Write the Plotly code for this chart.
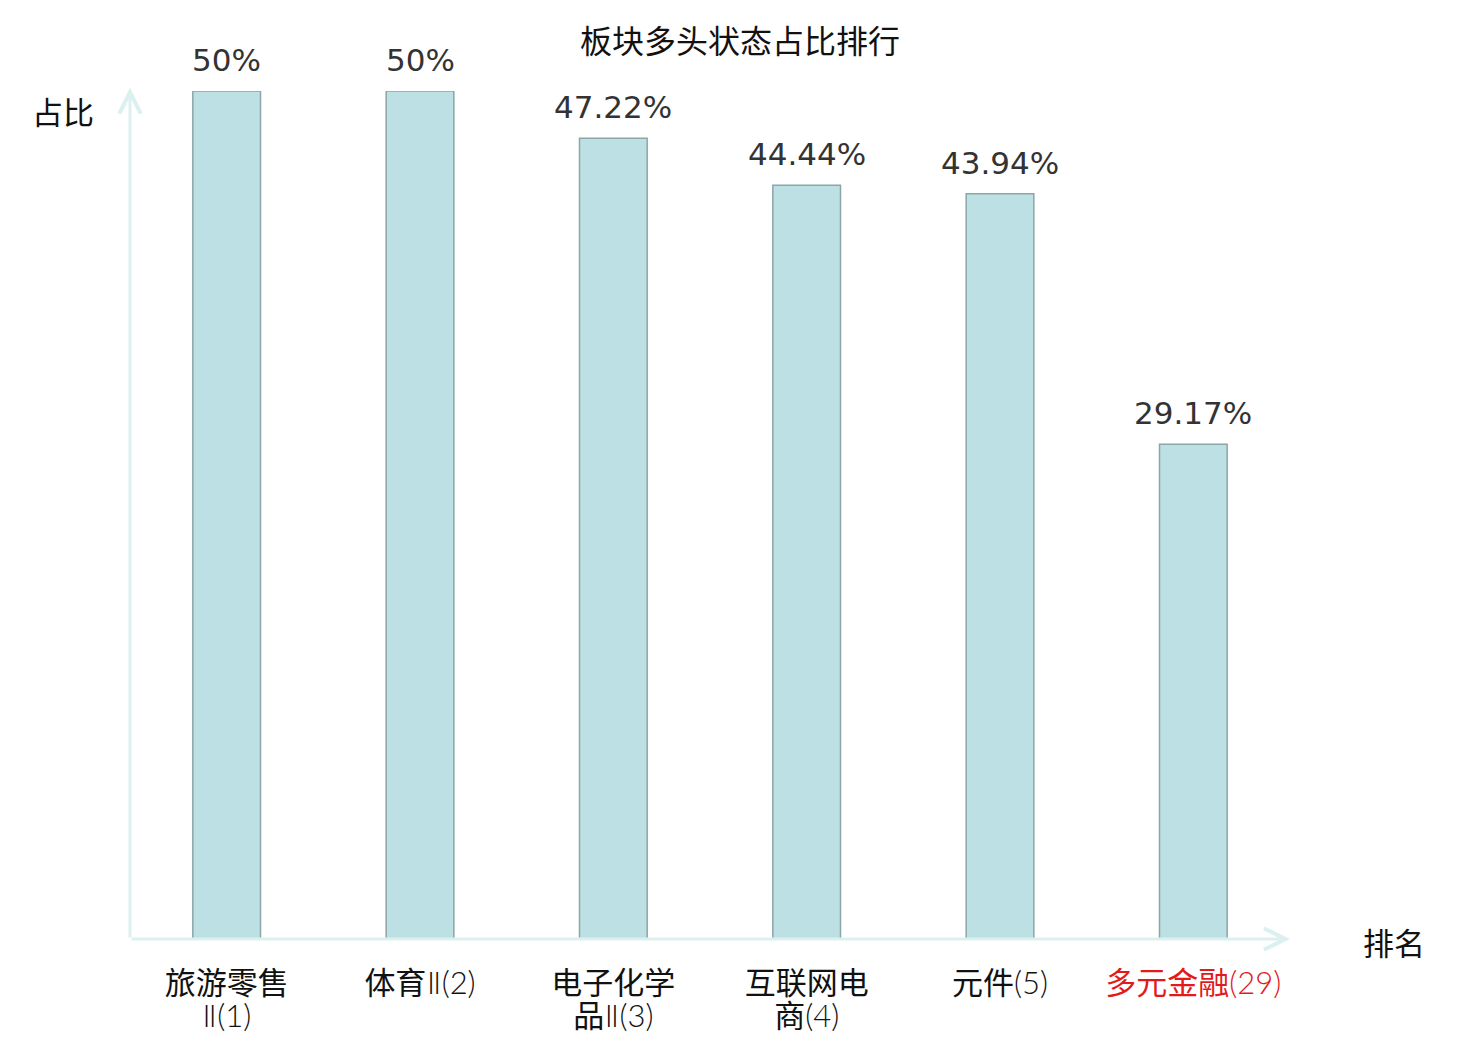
import plotly.graph_objects as go

line1 = ["旅游零售", "体育Ⅱ(2)", "电子化学", "互联网电", "元件(5)", "多元金融(29)"]
line2 = ["Ⅱ(1)", "", "品Ⅱ(3)", "商(4)", "", ""]
values = [50, 50, 47.22, 44.44, 43.94, 29.17]
labels = ["50%", "50%", "47.22%", "44.44%", "43.94%", "29.17%"]

axis_col = "#dcf1ef"
cjk = "Noto Sans CJK SC"
xs = list(range(len(values)))

# page body has an 8px margin, so the figure is a bit smaller than the window
W, H = 1472, 1032


def fmt(s, color=None):
    # the "Ⅱ(n)" part is drawn in thin faces, like the original
    out = s
    if "Ⅱ" in out:
        out = out.replace("Ⅱ", "<span style='font-family:DejaVu Sans;font-weight:300'>Ⅱ</span>")
    if "(" in out:
        a, b = out.split("(", 1)
        out = a + "<span style='font-family:Lato;font-weight:300'>(" + b + "</span>"
    if color:
        out = "<span style='color:" + color + "'>" + out + "</span>"
    return out


tick1 = [fmt(s, "#e31a1c" if i == len(line1) - 1 else None) for i, s in enumerate(line1)]
tick2 = [fmt(s) for s in line2]

fig = go.Figure()
fig.add_trace(go.Bar(
    x=xs, y=values,
    width=0.35,
    marker=dict(color="#bce0e3", line=dict(color="#8aa6a7", width=1.5)),
))
# second tick row lives on an overlaying axis
fig.add_trace(go.Scatter(x=xs, y=values, xaxis="x2", mode="none", showlegend=False,
                         hoverinfo="skip"))

for x, v, t in zip(xs, values, labels):
    fig.add_annotation(x=x, y=v, text=t, showarrow=False, yanchor="bottom", yshift=11,
                       font=dict(family="DejaVu Sans", size=31, color="#333333"))

fig.update_layout(
    width=W, height=H,
    margin=dict(l=122, r=190, t=83, b=101),
    plot_bgcolor="white", paper_bgcolor="white",
    showlegend=False,
    font=dict(family=cjk),
    title=dict(text="板块多头状态占比排行", x=732 / W, xref="container", xanchor="center",
               y=1 - 34 / H, yref="container", yanchor="middle",
               font=dict(family=cjk, size=32, color="#111111")),
    xaxis=dict(range=[-0.5, 5.5], tickmode="array", tickvals=xs, ticktext=tick1,
               showgrid=False, zeroline=False, showline=False, automargin=False,
               ticks="", ticklabelstandoff=23,
               tickfont=dict(family=cjk, size=31, color="#111111")),
    xaxis2=dict(range=[-0.5, 5.5], overlaying="x", side="bottom", tickmode="array",
                tickvals=xs, ticktext=tick2, showgrid=False, zeroline=False,
                showline=False, automargin=False, ticks="", ticklabelstandoff=56,
                tickfont=dict(family=cjk, size=31, color="#111111")),
    yaxis=dict(range=[0, 50], showgrid=False, zeroline=False, showline=False,
               showticklabels=False, ticks="", automargin=False),
)

# axis arrows
fig.add_annotation(xref="x domain", yref="y domain", axref="x domain", ayref="y domain",
                   x=1, y=0, ax=0, ay=0, text="", showarrow=True,
                   arrowhead=5, arrowsize=1.4, arrowwidth=3, arrowcolor=axis_col)
fig.add_annotation(xref="x domain", yref="y domain", axref="x domain", ayref="y domain",
                   x=0, y=1.004, ax=0, ay=0, text="", showarrow=True,
                   arrowhead=5, arrowsize=1.4, arrowwidth=3, arrowcolor=axis_col)

# axis names
fig.add_annotation(xref="paper", yref="paper", x=-0.029, y=0.977, text="占比",
                   showarrow=False, xanchor="right", yanchor="middle",
                   font=dict(family=cjk, size=31, color="#111111"))
fig.add_annotation(xref="paper", yref="paper", x=1.061, y=-0.003, text="排名",
                   showarrow=False, xanchor="left", yanchor="middle",
                   font=dict(family=cjk, size=31, color="#111111"))

fig.write_html("out.html")
